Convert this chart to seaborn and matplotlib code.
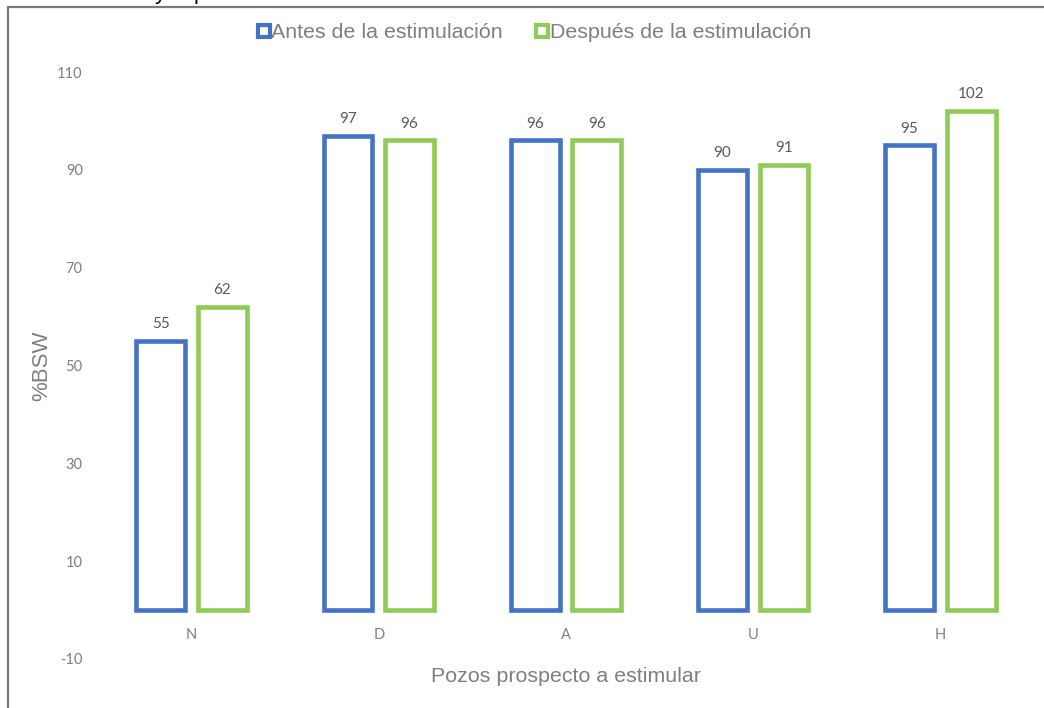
import matplotlib
matplotlib.use("Agg")
import matplotlib.pyplot as plt
from matplotlib.lines import Line2D
import seaborn as sns
import pandas as pd

# Data
pozos = ["N", "D", "A", "U", "H"]
antes = [55, 97, 96, 90, 95]
despues = [62, 96, 96, 91, 102]
serie_antes = "Antes de la estimulación"
serie_despues = "Después de la estimulación"
y_ticks = [-10, 10, 30, 50, 70, 90, 110]

azul = "#4472C4"
verde = "#8FCB55"
gris_txt = "#7F7F7F"
gris_val = "#595959"

df = pd.DataFrame({
    "pozo": pozos * 2,
    "bsw": antes + despues,
    "serie": [serie_antes] * len(pozos) + [serie_despues] * len(pozos),
})

sns.set_theme(style="white")
plt.rcParams["font.family"] = ["Liberation Sans", "DejaVu Sans"]
plt.rcParams["axes.unicode_minus"] = False

fig = plt.figure(figsize=(10.44, 7.08), dpi=100)
ax = fig.add_axes([98 / 1044, 1 - 659 / 708, (1034 - 98) / 1044, (659 - 72) / 708])

sns.barplot(
    data=df, x="pozo", y="bsw", hue="serie", order=pozos,
    hue_order=[serie_antes, serie_despues],
    palette=[azul, verde], fill=False, width=0.658, gap=0.21,
    linewidth=3.3, errorbar=None, legend=False, ax=ax,
)

# value labels above each bar
for cont in ax.containers:
    ax.bar_label(cont, fmt="%d", padding=7, fontsize=11, color=gris_val,
                 family=["Lato", "DejaVu Sans"])

ax.set_ylim(-10, 110)
ax.set_yticks(y_ticks)
ax.set_xlim(-0.5, len(pozos) - 0.5)
for s in ax.spines.values():
    s.set_visible(False)
ax.spines["bottom"].set_position(("data", 0))
ax.tick_params(axis="both", length=0, labelsize=10.5, labelcolor=gris_txt)
ax.tick_params(axis="y", pad=11)
ax.tick_params(axis="x", pad=13)
for lab in ax.get_xticklabels() + ax.get_yticklabels():
    lab.set_family(["Lato", "DejaVu Sans"])

ax.set_xlabel("")
ax.set_ylabel("")
fig.text(566 / 1044, 1 - 676 / 708, "Pozos prospecto a estimular", ha="center",
         va="center", fontsize=15.4, color=gris_txt)
fig.text(42 / 1044, 1 - 366 / 708, "%BSW", ha="center", va="center",
         rotation=90, fontsize=16, color=gris_txt)

# legend
handles = [
    Line2D([], [], marker="s", linestyle="none", markersize=8.5,
           markerfacecolor="white", markeredgecolor=azul, markeredgewidth=3),
    Line2D([], [], marker="s", linestyle="none", markersize=8.5,
           markerfacecolor="white", markeredgecolor=verde, markeredgewidth=3),
]
leg = fig.legend(handles, [serie_antes, serie_despues], loc="center",
                 bbox_to_anchor=(534 / 1044, 1 - 33 / 708), ncol=2,
                 frameon=False, fontsize=15.4, handlelength=0.6,
                 handletextpad=0.05, columnspacing=1.55)
for t in leg.get_texts():
    t.set_color(gris_txt)

# outer frame (left and top edges)
fig.add_artist(Line2D([7.5 / 1044, 7.5 / 1044], [0, 1 - 7 / 708],
                      transform=fig.transFigure, color="#7A7A7A", lw=1.6))
fig.add_artist(Line2D([7.5 / 1044, 1], [1 - 7 / 708, 1 - 7 / 708],
                      transform=fig.transFigure, color="#7A7A7A", lw=1.6))

# fragment of a line of text above the frame
fig.text(155 / 1044, 1 + 1 / 708, "y", ha="left", va="baseline",
         fontsize=16, color="black")
fig.text(194 / 1044, 1 + 1 / 708, "p", ha="left", va="baseline",
         fontsize=16, color="black")

fig.savefig("out.png", dpi=100)
